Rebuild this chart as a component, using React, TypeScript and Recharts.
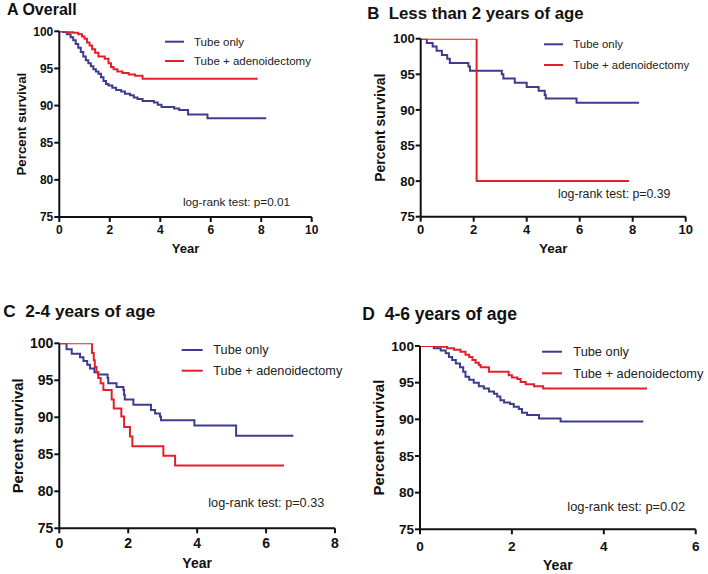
import React from 'react';
import { LineChart, Line, XAxis, YAxis } from 'recharts';

type Pt = { t: number; s: number };

// ---------- data (years, percent survival) ----------
const overallTubeOnly: Pt[] = [
  { t: 0, s: 100 }, { t: 0.15, s: 99.9 }, { t: 0.3, s: 99.6 }, { t: 0.45, s: 99.2 },
  { t: 0.55, s: 98.8 }, { t: 0.65, s: 98.3 }, { t: 0.75, s: 97.8 }, { t: 0.85, s: 97.2 },
  { t: 0.95, s: 96.6 }, { t: 1.05, s: 96.1 }, { t: 1.15, s: 95.7 }, { t: 1.25, s: 95.3 },
  { t: 1.35, s: 94.9 }, { t: 1.45, s: 94.6 }, { t: 1.55, s: 94.3 }, { t: 1.65, s: 93.8 },
  { t: 1.75, s: 93.3 }, { t: 1.85, s: 92.9 }, { t: 1.95, s: 92.7 }, { t: 2.1, s: 92.4 },
  { t: 2.25, s: 92.1 }, { t: 2.45, s: 91.9 }, { t: 2.6, s: 91.6 }, { t: 2.8, s: 91.4 },
  { t: 2.95, s: 91.1 }, { t: 3.1, s: 90.9 }, { t: 3.3, s: 90.6 }, { t: 3.75, s: 90.4 },
  { t: 3.9, s: 90.1 }, { t: 4.05, s: 89.8 }, { t: 4.55, s: 89.6 }, { t: 4.75, s: 89.4 },
  { t: 5.1, s: 88.8 }, { t: 5.87, s: 88.3 }, { t: 8.2, s: 88.3 },
];
const overallTubeAdeno: Pt[] = [
  { t: 0, s: 100 }, { t: 0.3, s: 99.9 }, { t: 0.55, s: 99.8 }, { t: 0.75, s: 99.6 },
  { t: 0.9, s: 99.3 }, { t: 1.0, s: 99.0 }, { t: 1.1, s: 98.5 }, { t: 1.2, s: 98.1 },
  { t: 1.3, s: 97.6 }, { t: 1.42, s: 97.1 }, { t: 1.55, s: 96.6 }, { t: 1.8, s: 96.3 },
  { t: 1.95, s: 95.7 }, { t: 2.05, s: 95.2 }, { t: 2.15, s: 94.9 }, { t: 2.3, s: 94.6 },
  { t: 2.5, s: 94.4 }, { t: 2.75, s: 94.2 }, { t: 3.0, s: 94.0 }, { t: 3.3, s: 93.6 },
  { t: 7.86, s: 93.6 },
];
const under2TubeOnly: Pt[] = [
  { t: 0, s: 100 }, { t: 0.23, s: 99.4 }, { t: 0.45, s: 98.9 }, { t: 0.6, s: 98.3 },
  { t: 0.8, s: 97.7 }, { t: 1.0, s: 97.2 }, { t: 1.1, s: 96.6 }, { t: 1.8, s: 96.1 },
  { t: 1.86, s: 95.5 }, { t: 3.06, s: 95.0 }, { t: 3.12, s: 94.4 }, { t: 3.55, s: 93.8 },
  { t: 4.0, s: 93.2 }, { t: 4.45, s: 92.7 }, { t: 4.68, s: 92.1 }, { t: 4.72, s: 91.6 },
  { t: 5.88, s: 91.0 }, { t: 8.24, s: 91.0 },
];
const under2TubeAdeno: Pt[] = [
  { t: 0, s: 100 }, { t: 2.11, s: 80 }, { t: 7.86, s: 80 },
];
const age24TubeOnly: Pt[] = [
  { t: 0, s: 100 }, { t: 0.21, s: 99.2 }, { t: 0.36, s: 98.6 }, { t: 0.6, s: 98.1 },
  { t: 0.7, s: 97.6 }, { t: 0.81, s: 97.1 }, { t: 0.89, s: 96.6 }, { t: 1.02, s: 96.1 },
  { t: 1.13, s: 95.8 }, { t: 1.4, s: 95.3 }, { t: 1.42, s: 94.6 }, { t: 1.66, s: 94.1 },
  { t: 1.86, s: 93.7 }, { t: 1.88, s: 93.0 }, { t: 1.9, s: 92.4 }, { t: 2.15, s: 91.7 },
  { t: 2.66, s: 91.0 }, { t: 2.78, s: 90.5 }, { t: 2.92, s: 90.1 }, { t: 2.95, s: 89.6 },
  { t: 3.92, s: 88.9 }, { t: 5.13, s: 87.5 }, { t: 6.79, s: 87.5 },
];
const age24TubeAdeno: Pt[] = [
  { t: 0, s: 100 }, { t: 0.95, s: 98.7 }, { t: 1.0, s: 97.7 }, { t: 1.03, s: 96.8 },
  { t: 1.08, s: 96.1 }, { t: 1.13, s: 95.3 }, { t: 1.2, s: 94.6 }, { t: 1.28, s: 93.7 },
  { t: 1.52, s: 92.4 }, { t: 1.58, s: 91.2 }, { t: 1.8, s: 90.1 }, { t: 1.88, s: 88.7 },
  { t: 2.05, s: 87.4 }, { t: 2.12, s: 86.1 }, { t: 3.02, s: 84.8 }, { t: 3.36, s: 83.5 },
  { t: 6.52, s: 83.5 },
];
const age46TubeOnly: Pt[] = [
  { t: 0, s: 100 }, { t: 0.3, s: 99.7 }, { t: 0.45, s: 99.4 }, { t: 0.56, s: 99.0 },
  { t: 0.63, s: 98.5 }, { t: 0.7, s: 98.1 }, { t: 0.78, s: 97.6 }, { t: 0.87, s: 97.1 },
  { t: 0.94, s: 96.5 }, { t: 0.99, s: 95.8 }, { t: 1.07, s: 95.4 }, { t: 1.17, s: 95.0 },
  { t: 1.28, s: 94.5 }, { t: 1.39, s: 94.2 }, { t: 1.5, s: 93.8 }, { t: 1.61, s: 93.5 },
  { t: 1.68, s: 93.1 }, { t: 1.75, s: 92.6 }, { t: 1.83, s: 92.3 }, { t: 1.96, s: 92.1 },
  { t: 2.04, s: 91.7 }, { t: 2.15, s: 91.4 }, { t: 2.22, s: 90.9 }, { t: 2.33, s: 90.6 },
  { t: 2.59, s: 90.1 }, { t: 3.06, s: 89.7 }, { t: 4.86, s: 89.7 },
];
const age46TubeAdeno: Pt[] = [
  { t: 0, s: 100 }, { t: 0.38, s: 99.9 }, { t: 0.59, s: 99.7 }, { t: 0.74, s: 99.5 },
  { t: 0.88, s: 99.2 }, { t: 0.99, s: 98.8 }, { t: 1.07, s: 98.5 }, { t: 1.14, s: 98.1 },
  { t: 1.21, s: 97.7 }, { t: 1.28, s: 97.4 }, { t: 1.32, s: 97.1 }, { t: 1.5, s: 96.5 },
  { t: 1.93, s: 96.0 }, { t: 2.0, s: 95.7 }, { t: 2.12, s: 95.5 }, { t: 2.19, s: 95.1 },
  { t: 2.3, s: 94.8 }, { t: 2.48, s: 94.5 }, { t: 2.68, s: 94.2 }, { t: 4.94, s: 94.2 },
];

const yTicks = [75, 80, 85, 90, 95, 100];
const xTicksTo10 = [0, 2, 4, 6, 8, 10];
const xTicksTo8 = [0, 2, 4, 6, 8];
const xTicksTo6 = [0, 2, 4, 6];
const seriesNames = ['Tube only', 'Tube + adenoidectomy'];
const panelTitles = ['A Overall', 'B  Less than 2 years of age', 'C  2-4 years of age', 'D  4-6 years of age'];
const pValueTexts = ['log-rank test: p=0.01', 'log-rank test: p=0.39', 'log-rank test: p=0.33', 'log-rank test: p=0.02'];
const yAxisTitle = 'Percent survival';
const xAxisTitle = 'Year';

// ---------- styling ----------
const FONT = "'Liberation Sans', Arial, Helvetica, sans-serif";
const BLUE = '#3c3d8e';
const RED = '#e3202a';
const AXIS = '#111111';

type PanelCfg = {
  left: number; top: number; w: number; h: number;
  pl: number; pr: number; pt: number; pb: number;
  xMax: number; xTicks: number[];
  tubeOnly: Pt[]; tubeAdeno: Pt[];
  tickFont: number; xTickMargin: number;
  title: string; titleX: number; titleY: number; titleFont: number;
  legX1: number; legX2: number; legTextX: number; legY1: number; legY2: number; legFont: number;
  pText: string; pX: number; pY: number; pFont: number;
  yLabX: number; yLabFont: number; xLabY: number; xLabFont: number;
};

const panels: PanelCfg[] = [
  {
    left: 0, top: 0, w: 354, h: 287, pl: 59.3, pr: 311.7, pt: 31.3, pb: 217,
    xMax: 10, xTicks: xTicksTo10, tubeOnly: overallTubeOnly, tubeAdeno: overallTubeAdeno,
    tickFont: 12, xTickMargin: 3,
    title: panelTitles[0], titleX: 7, titleY: 15, titleFont: 16,
    legX1: 165, legX2: 184, legTextX: 194, legY1: 41.7, legY2: 61, legFont: 11.5,
    pText: pValueTexts[0], pX: 183, pY: 201, pFont: 11.7,
    yLabX: 21.7, yLabFont: 13.3, xLabY: 248, xLabFont: 13,
  },
  {
    left: 354, top: 0, w: 354, h: 287, pl: 66.7, pr: 331.7, pt: 38.7, pb: 216.7,
    xMax: 10, xTicks: xTicksTo10, tubeOnly: under2TubeOnly, tubeAdeno: under2TubeAdeno,
    tickFont: 13, xTickMargin: 3,
    title: panelTitles[1], titleX: 367.3, titleY: 19.3, titleFont: 16.8,
    legX1: 544, legX2: 563, legTextX: 573.3, legY1: 44.3, legY2: 65, legFont: 11.4,
    pText: pValueTexts[1], pX: 558, pY: 194, pFont: 12.3,
    yLabX: 380, yLabFont: 14, xLabY: 248, xLabFont: 13.5,
  },
  {
    left: 0, top: 287, w: 354, h: 287, pl: 59.3, pr: 335, pt: 56.3, pb: 241.3,
    xMax: 8, xTicks: xTicksTo8, tubeOnly: age24TubeOnly, tubeAdeno: age24TubeAdeno,
    tickFont: 14, xTickMargin: 5,
    title: panelTitles[2], titleX: 3.3, titleY: 316.7, titleFont: 17.2,
    legX1: 181.7, legX2: 202.7, legTextX: 213.3, legY1: 350, legY2: 370.7, legFont: 12.7,
    pText: pValueTexts[2], pX: 208.3, pY: 502.7, pFont: 12.7,
    yLabX: 18.3, yLabFont: 14.9, xLabY: 563.3, xLabFont: 14,
  },
  {
    left: 354, top: 287, w: 354, h: 287, pl: 66, pr: 341.7, pt: 59, pb: 242.3,
    xMax: 6, xTicks: xTicksTo6, tubeOnly: age46TubeOnly, tubeAdeno: age46TubeAdeno,
    tickFont: 13.6, xTickMargin: 7,
    title: panelTitles[3], titleX: 362.3, titleY: 320, titleFont: 17.5,
    legX1: 542, legX2: 562, legTextX: 573.3, legY1: 351.7, legY2: 373.3, legFont: 12.8,
    pText: pValueTexts[3], pX: 567.3, pY: 506, pFont: 12.9,
    yLabX: 379, yLabFont: 15, xLabY: 565, xLabFont: 14,
  },
];

function Panel({ c }: { c: PanelCfg }) {
  const tickStyle = { fill: '#111', fontSize: c.tickFont, fontWeight: 'bold' as const, fontFamily: FONT };
  return (
    <div style={{ position: 'absolute', left: c.left, top: c.top, width: c.w, height: c.h }}>
      <LineChart width={c.w} height={c.h} margin={{ top: c.pt, right: c.w - c.pr, bottom: 0, left: 0 }}>
        <XAxis
          type="number"
          dataKey="t"
          domain={[0, c.xMax]}
          ticks={c.xTicks}
          interval={0}
          allowDataOverflow
          height={c.h - c.pb}
          axisLine={{ stroke: AXIS, strokeWidth: 2 }}
          tickLine={{ stroke: AXIS, strokeWidth: 2 }}
          tickSize={5}
          tickMargin={c.xTickMargin}
          tick={tickStyle}
        />
        <YAxis
          type="number"
          domain={[75, 100]}
          ticks={yTicks}
          interval={0}
          allowDataOverflow
          width={c.pl}
          axisLine={{ stroke: AXIS, strokeWidth: 2 }}
          tickLine={{ stroke: AXIS, strokeWidth: 2 }}
          tickSize={5}
          tickMargin={1}
          tick={tickStyle}
        />
        <Line data={c.tubeOnly} dataKey="s" name={seriesNames[0]} type="stepAfter" stroke={BLUE}
          strokeWidth={2} dot={false} activeDot={false} isAnimationActive={false} />
        <Line data={c.tubeAdeno} dataKey="s" name={seriesNames[1]} type="stepAfter" stroke={RED}
          strokeWidth={2} dot={false} activeDot={false} isAnimationActive={false} />
      </LineChart>
    </div>
  );
}

function Overlay() {
  return (
    <svg width={708} height={574} style={{ position: 'absolute', left: 0, top: 0, pointerEvents: 'none' }}>
      {panels.map((c, i) => {
        const midY = c.top + (c.pt + c.pb) / 2;
        const midX = c.left + (c.pl + c.pr) / 2;
        return (
          <g key={i} fontFamily={FONT}>
            <text x={c.titleX} y={c.titleY} fontSize={c.titleFont} fontWeight="bold" fill="#111"
              style={{ whiteSpace: 'pre' }}>{c.title}</text>
            <line x1={c.legX1} x2={c.legX2} y1={c.legY1} y2={c.legY1} stroke={BLUE} strokeWidth={2} />
            <line x1={c.legX1} x2={c.legX2} y1={c.legY2} y2={c.legY2} stroke={RED} strokeWidth={2} />
            <text x={c.legTextX} y={c.legY1} dominantBaseline="central" fontSize={c.legFont} fill="#222">{seriesNames[0]}</text>
            <text x={c.legTextX} y={c.legY2} dominantBaseline="central" fontSize={c.legFont} fill="#222">{seriesNames[1]}</text>
            <text x={c.pX} y={c.pY} dominantBaseline="central" fontSize={c.pFont} fill="#222">{c.pText}</text>
            <text x={c.yLabX} y={midY} dominantBaseline="central" textAnchor="middle" fontSize={c.yLabFont}
              fontWeight="bold" fill="#111" transform={`rotate(-90 ${c.yLabX} ${midY})`}>{yAxisTitle}</text>
            <text x={midX} y={c.xLabY} dominantBaseline="central" textAnchor="middle" fontSize={c.xLabFont}
              fontWeight="bold" fill="#111">{xAxisTitle}</text>
          </g>
        );
      })}
    </svg>
  );
}

export default function App() {
  return (
    <div style={{ position: 'absolute', left: 0, top: 0, width: 708, height: 574, background: '#fff', overflow: 'hidden' }}>
      {panels.map((c, i) => <Panel key={i} c={c} />)}
      <Overlay />
    </div>
  );
}
